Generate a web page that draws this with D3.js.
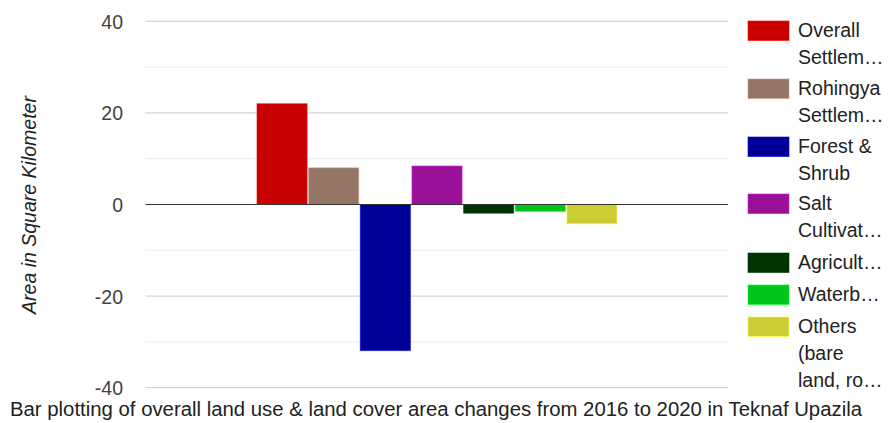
<!DOCTYPE html>
<html><head><meta charset="utf-8">
<script src="https://cdn.jsdelivr.net/npm/d3@7"></script>
<style>body{margin:0;background:#fff}svg{display:block;font-family:"Liberation Sans",Arial,sans-serif}</style>
</head><body><svg id="c" width="888" height="423"></svg>
<script>
const series = ["Overall Settlement","Rohingya Settlement","Forest & Shrub","Salt Cultivation","Agriculture","Waterbody","Others (bare land, road)"];
const legendLines = [["Overall","Settlem…"],["Rohingya","Settlem…"],["Forest &","Shrub"],["Salt","Cultivat…"],["Agricult…"],["Waterb…"],["Others","(bare","land, ro…"]];
const values = [22.0, 8.0, -31.9, 8.4, -1.9, -1.5, -4.2];
const colors = ["#c80000","#957565","#000099","#991199","#003300","#00c61a","#cccc33"];
const majorTicks = [40, 20, 0, -20, -40];
const minorTicks = [30, 10, -10, -30];
const yTitle = "Area in Square Kilometer";
const xTitle = "Bar plotting of overall land use & land cover area changes from 2016 to 2020 in Teknaf Upazila";

const svg = d3.select("#c");
const plot = {left:145.5, right:728, top:21.3, bottom:387.7};
const fs = 19.5;
const y = d3.scaleLinear().domain([-40,40]).range([plot.bottom, plot.top]);
const x = d3.scaleBand().domain(series).range([257, 617]).paddingInner(0.03);

// grid
svg.append("g").selectAll("line").data(minorTicks).join("line")
  .attr("x1",plot.left).attr("x2",plot.right)
  .attr("y1",d=>y(d)).attr("y2",d=>y(d))
  .attr("stroke","#ebebeb").attr("stroke-width",1);
svg.append("g").selectAll("line").data(majorTicks.filter(d=>d!==0)).join("line")
  .attr("x1",plot.left).attr("x2",plot.right)
  .attr("y1",d=>y(d)).attr("y2",d=>y(d))
  .attr("stroke","#cccccc").attr("stroke-width",1);

// axis labels
const ax = d3.axisLeft(y).tickValues(majorTicks).tickSize(0).tickPadding(0).tickFormat(d=>String(d));
const g = svg.append("g").attr("transform","translate(123,0)").call(ax);
g.select(".domain").remove();
g.selectAll("text").attr("font-size",fs).attr("fill","#444").attr("font-family","Liberation Sans, Arial, sans-serif").attr("dy","0.36em");

// bars
svg.append("g").selectAll("rect").data(values).join("rect")
  .attr("x",(d,i)=>x(series[i]))
  .attr("width",x.bandwidth())
  .attr("y",d=>Math.min(y(d),y(0)))
  .attr("height",d=>Math.abs(y(d)-y(0)))
  .attr("fill",(d,i)=>colors[i])
  .attr("stroke",(d,i)=>d3.color(colors[i]).brighter(0.8))
  .attr("stroke-opacity",0.6)
  .attr("stroke-width",1);

// zero line
svg.append("line").attr("x1",plot.left).attr("x2",plot.right)
  .attr("y1",y(0)).attr("y2",y(0)).attr("stroke","#333").attr("stroke-width",1.2);

// y title
svg.append("text").attr("transform",`translate(36,205) rotate(-90)`)
  .attr("text-anchor","middle").attr("font-size",fs).attr("font-style","italic")
  .attr("fill","#222").text(yTitle);

// x title
svg.append("text").attr("x",10).attr("y",416)
  .attr("font-size",fs).attr("fill","#222")
  .attr("textLength",852).attr("lengthAdjust","spacingAndGlyphs").text(xTitle);

// legend
const entryTop = [21, 79, 137, 194, 253, 285, 317];
const lg = svg.append("g");
legendLines.forEach((lines,i)=>{
  const t = entryTop[i];
  lg.append("rect").attr("x",748).attr("y",t).attr("width",41).attr("height",19.5)
    .attr("fill",colors[i]).attr("stroke",d3.color(colors[i]).brighter(0.8)).attr("stroke-opacity",0.6);
  lines.forEach((s,j)=>{
    lg.append("text").attr("x",798).attr("y",t+16+j*27).attr("font-size",fs)
      .attr("fill","#222").text(s);
  });
});
</script></body></html>
